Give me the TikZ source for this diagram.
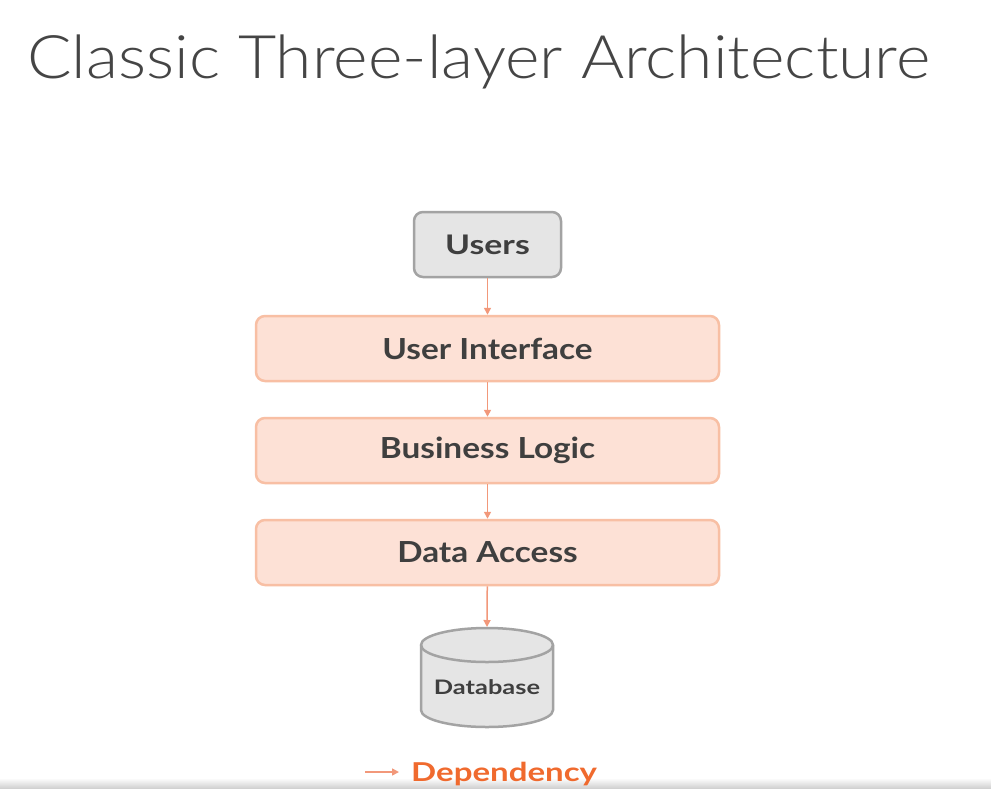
\documentclass[tikz,border=0pt]{standalone}
\usepackage{fontspec}
\setmainfont{Lato}
\newfontfamily\titlefont{Lato Light}
\usetikzlibrary{arrows.meta}
\definecolor{titlegray}{HTML}{454545}
\definecolor{textgray}{HTML}{3F3F3F}
\definecolor{usersfill}{HTML}{E5E5E5}
\definecolor{usersdraw}{HTML}{A3A3A3}
\definecolor{layerfill}{HTML}{FDE1D6}
\definecolor{layerdraw}{HTML}{F8BFA4}
\definecolor{arrowcol}{HTML}{F2987A}
\definecolor{depcol}{HTML}{F06A2E}
\newcommand{\wider}[2]{\scalebox{#1}[1]{#2}}
\tikzset{
  userbox/.style={draw=usersdraw, fill=usersfill, line width=2.5pt, rounded corners=9pt,
    minimum width=147pt, minimum height=65pt, inner sep=0pt, text=textgray,
    font=\fontsize{27}{30}\selectfont\bfseries},
  layerbox/.style={draw=layerdraw, fill=layerfill, line width=2.5pt, rounded corners=9pt,
    minimum width=463pt, minimum height=65pt, inner sep=0pt, text=textgray,
    font=\fontsize{29}{32}\selectfont\bfseries},
  dep/.style={draw=arrowcol, line width=1.5pt, -{Triangle[length=7pt,width=7pt]}},
}
\begin{document}
\begin{tikzpicture}[x=1pt,y=-1pt]
\useasboundingbox (0,0) rectangle (991,788);
\fill[white] (0,0) rectangle (991,788);
\shade[top color=white, bottom color=black!18] (0,778) rectangle (991,788);
\node[anchor=base west, inner sep=0pt, text=titlegray, font=\titlefont\fontsize{60}{66}\selectfont] (title) at (27,78) {\wider{1.1}{Classic Three-layer Architecture}};

\node[userbox] (users) at (487.5,244.5) {\wider{1.25}{Users}};
\node[layerbox] (ui) at (487.5,348.5) {\wider{1.15}{User Interface}};
\node[layerbox] (bl) at (487.5,450.5) {\wider{1.15}{Business Logic}};
\node[layerbox] (da) at (487.5,552.5) {\wider{1.15}{Data Access}};

% database cylinder
\filldraw[draw=usersdraw, fill=usersfill, line width=2.5pt]
  (421,645) -- (421,710) arc[start angle=180, end angle=360, x radius=66pt, y radius=17pt]
  -- (553,645) arc[start angle=0, end angle=180, x radius=66pt, y radius=17pt] -- cycle;
\draw[draw=usersdraw, line width=2.5pt] (421,645) arc[start angle=180, end angle=360, x radius=66pt, y radius=17pt];
\node[inner sep=0pt, text=textgray, font=\fontsize{20}{24}\selectfont\bfseries] (db) at (487,687) {\wider{1.27}{Database}};
\coordinate (dbtop) at (487,627);

\draw[dep] (users) -- (ui);
\draw[dep] (ui) -- (bl);
\draw[dep] (bl) -- (da);
\draw[dep] (da) -- (dbtop);

\coordinate (legs) at (365,772);
\coordinate (lege) at (399,772);
\draw[dep] (legs) -- (lege);
\node[anchor=base west, inner sep=0pt, text=depcol, font=\fontsize{26}{28}\selectfont\bfseries] (deplabel) at (411,781) {\wider{1.27}{Dependency}};
\end{tikzpicture}
\end{document}
